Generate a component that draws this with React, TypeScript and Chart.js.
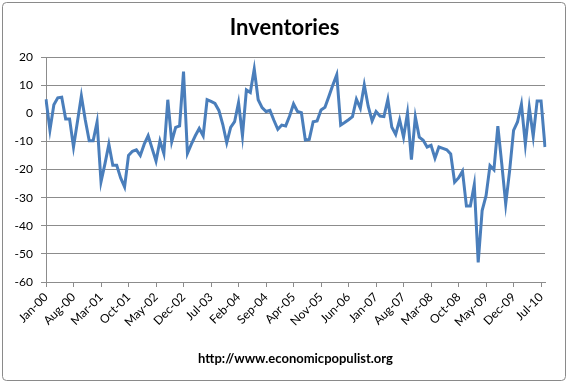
import React, { useEffect, useRef } from 'react';
import { Chart, registerables } from 'chart.js';

Chart.register(...registerables);

// ---- data ----
const MONTH_NAMES = ['Jan', 'Feb', 'Mar', 'Apr', 'May', 'Jun', 'Jul', 'Aug', 'Sep', 'Oct', 'Nov', 'Dec'];
const START_YEAR_2D = 0; // 2000

const inventories: number[] = [
  5, -6, 3, 5.5, 5.7, -2, -2, -12, -3, 6.2,
  -2.4, -9.8, -9.8, -3.1, -24.4, -18, -11, -18.5, -18.5, -23,
  -26.2, -15, -13.5, -13, -15, -11, -8, -12.5, -17, -9.8,
  -14.3, 4.8, -10.1, -5, -4.5, 14.8, -14.3, -11, -8, -5.4,
  -8, 4.8, 4.2, 3.5, 1, -4, -10.5, -5, -3, 3.8,
  -8, 8.3, 7.4, 15.7, 4.8, 2, 0.6, 1, -2.5, -5.7,
  -4.2, -4.5, -1, 3.3, 0.6, 0.2, -9.5, -9.3, -3, -2.7,
  1.2, 2.1, 6, 10, 13.7, -4.2, -3.3, -2.3, -1.2, 5,
  1.8, 10.1, 2.5, -2.7, 0.6, -1, -1.2, 4.9, -4.9, -7.5,
  -2.3, -8.5, 0.1, -16.5, -1.3, -8.5, -9.6, -12, -11.4, -16,
  -12, -12.5, -13, -14.5, -24.5, -23, -20.6, -33, -33, -25.4,
  -53, -34.6, -29.3, -18.6, -20.1, -4.6, -18, -32.3, -20.4, -6.1,
  -3.1, 3.2, -11, 2, -8.2, 4.4, 4.4, -12,
];

const categories: string[] = inventories.map((_, i) => {
  const yy = START_YEAR_2D + Math.floor(i / 12);
  return `${MONTH_NAMES[i % 12]}-${String(yy).padStart(2, '0')}`;
});

const LABEL_EVERY = 7;
const Y_MIN = -60;
const Y_MAX = 20;
const Y_STEP = 10;
const TITLE = 'Inventories';
const SOURCE = 'http://www.economicpopulist.org';

const W = 569;
const H = 384;
const FONT = 'Lato, "Open Sans", "DejaVu Sans", sans-serif';
const GRID = '#8c8c8c';

const frameAndTitle = {
  id: 'frameAndTitle',
  beforeDraw(chart: any) {
    const ctx = chart.ctx;
    ctx.save();
    ctx.fillStyle = '#ffffff';
    ctx.fillRect(0, 0, W, H);
    ctx.strokeStyle = '#8a8a8a';
    ctx.lineWidth = 1;
    const r = 4;
    const x0 = 2.5, y0 = 2.5, x1 = W - 3.5, y1 = H - 3.5;
    ctx.beginPath();
    ctx.moveTo(x0 + r, y0);
    ctx.lineTo(x1 - r, y0);
    ctx.quadraticCurveTo(x1, y0, x1, y0 + r);
    ctx.lineTo(x1, y1 - r);
    ctx.quadraticCurveTo(x1, y1, x1 - r, y1);
    ctx.lineTo(x0 + r, y1);
    ctx.quadraticCurveTo(x0, y1, x0, y1 - r);
    ctx.lineTo(x0, y0 + r);
    ctx.quadraticCurveTo(x0, y0, x0 + r, y0);
    ctx.stroke();
    ctx.fillStyle = '#000000';
    ctx.font = `bold 22px ${FONT}`;
    ctx.textAlign = 'center';
    ctx.textBaseline = 'middle';
    ctx.fillText(TITLE, 284.5, 28);
    ctx.restore();
  },
};

export default function App() {
  const ref = useRef<HTMLCanvasElement | null>(null);

  useEffect(() => {
    document.body.style.margin = '0';
    if (!ref.current) return;
    const chart = new Chart(ref.current, {
      type: 'line',
      data: {
        labels: categories,
        datasets: [
          {
            data: inventories,
            borderColor: '#4a7ebb',
            borderWidth: 3,
            pointRadius: 0,
            tension: 0,
            fill: false,
          },
        ],
      },
      options: {
        animation: false,
        responsive: false,
        events: [],
        layout: { padding: { top: 57, right: 24, bottom: 0, left: 0 } },
        plugins: {
          legend: { display: false },
          title: { display: false },
          tooltip: { enabled: false },
        },
        scales: {
          x: {
            type: 'category',
            offset: false,
            afterFit: (s: any) => {
              s.height = H - 282;
            },
            grid: {
              drawOnChartArea: false,
              drawTicks: true,
              tickLength: 5,
              tickColor: (c: any) => (c.index % LABEL_EVERY === 0 ? GRID : 'rgba(0,0,0,0)'),
              color: (c: any) => (c.index % LABEL_EVERY === 0 ? GRID : 'rgba(0,0,0,0)'),
            },
            border: { display: true, color: GRID, width: 1 },
            ticks: {
              autoSkip: false,
              minRotation: 45,
              maxRotation: 45,
              padding: 3,
              color: '#000',
              font: { family: FONT, size: 12 },
              callback: (_v: any, i: number) => (i % LABEL_EVERY === 0 ? categories[i] : ''),
            },
            title: {
              display: true,
              text: SOURCE,
              color: '#000',
              font: { family: FONT, size: 13, weight: 'bold' },
              padding: { top: 0, bottom: 17 },
            },
          },
          y: {
            min: Y_MIN,
            max: Y_MAX,
            afterFit: (s: any) => {
              s.width = 46;
            },
            grid: {
              color: GRID,
              lineWidth: 1,
              drawTicks: true,
              tickLength: 5,
            },
            border: { display: true, color: GRID, width: 1 },
            ticks: {
              stepSize: Y_STEP,
              padding: 8,
              color: '#000',
              font: { family: FONT, size: 12 },
            },
          },
        },
      },
      plugins: [frameAndTitle],
    });
    return () => chart.destroy();
  }, []);

  return (
    <div style={{ position: 'absolute', left: 0, top: 0, width: W, height: H }}>
      <canvas ref={ref} width={W} height={H} style={{ width: W, height: H, display: 'block' }} />
    </div>
  );
}
